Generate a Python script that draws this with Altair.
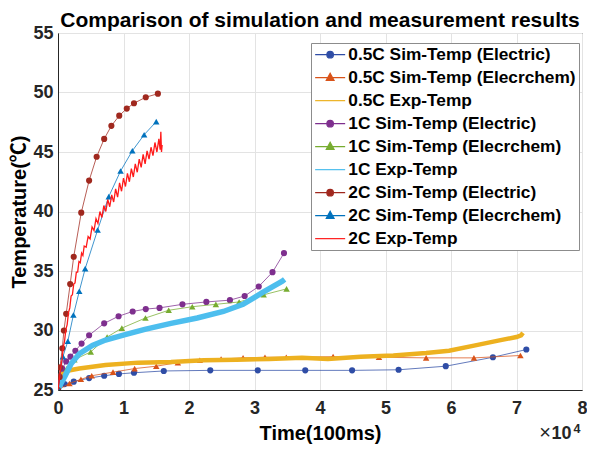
import altair as alt
import pandas as pd

# ---------------- data (x in units of 1e4 x 100ms, T in degC) ----------------
series_names = [
    "0.5C Sim-Temp (Electric)", "0.5C Sim-Temp (Elecrchem)", "0.5C Exp-Temp",
    "1C Sim-Temp (Electric)", "1C Sim-Temp (Elecrchem)", "1C Exp-Temp",
    "2C Sim-Temp (Electric)", "2C Sim-Temp (Elecrchem)", "2C Exp-Temp",
]
series_colors = ["#2F4DA6", "#D95319", "#EDB120",
                 "#7E2F8E", "#77AC30", "#4DBEEE",
                 "#A0281E", "#0072BD", "#FF1A1A"]

x_05_el = [0, 0.1, 0.24, 0.475, 0.705, 0.93, 1.16, 1.615, 2.325, 3.05, 3.775, 4.49, 5.2, 5.92, 6.64, 7.15]
t_05_el = [25.0, 25.5, 25.7, 26.0, 26.2, 26.35, 26.45, 26.6, 26.65, 26.65, 26.65, 26.65, 26.7, 27.0, 27.75, 28.4]

x_05_ec = [0, 0.175, 0.35, 0.515, 0.84, 1.17, 1.5, 1.83, 2.165, 2.49, 2.825, 3.16, 3.485, 4.2, 4.9, 5.62, 6.35, 7.06]
t_05_ec = [25.0, 25.55, 25.9, 26.2, 26.5, 26.8, 27.0, 27.3, 27.5, 27.6, 27.7, 27.75, 27.75, 27.8, 27.75, 27.7, 27.7, 27.9]

x_05_ex = [0, 0.02, 0.05, 0.125, 0.325, 0.725, 1.225, 1.725, 2.225, 2.725, 3.225, 3.725, 4.12, 4.62, 5.12, 5.62, 5.97, 6.37, 6.72, 7.0, 7.07, 7.1]
t_05_ex = [25.0, 25.9, 26.4, 26.6, 26.8, 27.1, 27.3, 27.35, 27.5, 27.55, 27.6, 27.7, 27.6, 27.8, 27.9, 28.1, 28.3, 28.75, 29.15, 29.45, 29.6, 29.8]

x_1_el = [0, 0.01, 0.065, 0.125, 0.19, 0.265, 0.36, 0.475, 0.705, 0.925, 1.14, 1.34, 1.55, 1.9, 2.265, 2.625, 2.85, 3.065, 3.275, 3.45]
t_1_el = [25.1, 26.1, 26.8, 27.4, 27.8, 28.3, 28.9, 29.6, 30.6, 31.2, 31.6, 31.8, 31.9, 32.2, 32.4, 32.55, 32.9, 33.7, 34.9, 36.5]

x_1_ec = [0, 0.135, 0.25, 0.5, 0.75, 0.975, 1.335, 1.69, 2.05, 2.41, 2.765, 3.14, 3.49]
t_1_ec = [25.0, 26.8, 27.55, 28.2, 29.45, 30.2, 31.05, 31.7, 32.0, 32.2, 32.4, 33.0, 33.5]

x_1_ex = [0, 0.05, 0.1, 0.2, 0.325, 0.525, 0.725, 1.025, 1.325, 1.725, 2.125, 2.525, 2.825, 3.125, 3.425, 3.46]
t_1_ex = [25.0, 25.6, 26.1, 27.2, 28.05, 28.75, 29.2, 29.65, 30.1, 30.6, 31.05, 31.6, 32.2, 33.2, 34.15, 34.3]

x_2_el = [0, 0.025, 0.03, 0.066, 0.09, 0.125, 0.186, 0.24, 0.355, 0.475, 0.59, 0.705, 0.815, 0.935, 1.05, 1.16, 1.34, 1.525]
t_2_el = [25.0, 26.1, 26.9, 28.5, 30.0, 31.4, 33.9, 36.2, 39.9, 42.6, 44.6, 46.1, 47.2, 48.05, 48.65, 49.1, 49.6, 49.9]

x_2_ec = [0, 0.075, 0.15, 0.235, 0.325, 0.415, 0.605, 0.775, 0.955, 1.135, 1.315, 1.5]
t_2_ec = [25.1, 27.8, 29.1, 31.3, 33.3, 35.2, 38.45, 41.25, 43.4, 45.1, 46.45, 47.55]

x_2_ex = [0, 0.02, 0.04, 0.06, 0.08, 0.10, 0.12, 0.14, 0.16, 0.18, 0.20, 0.22, 0.24, 0.26, 0.28,
          0.30, 0.32, 0.34, 0.36, 0.38, 0.40, 0.43, 0.46, 0.49, 0.52, 0.55, 0.58, 0.61, 0.64, 0.67,
          0.70, 0.73, 0.76, 0.79, 0.82, 0.85, 0.88, 0.91, 0.94, 0.97, 1.00, 1.03, 1.06, 1.09, 1.12,
          1.15, 1.18, 1.21, 1.24, 1.27, 1.30, 1.33, 1.36, 1.39, 1.42, 1.45, 1.48, 1.51, 1.54, 1.56,
          1.57, 1.58, 1.59]
t_2_ex = [25.0, 25.9, 26.8, 27.5, 28.6, 29.1, 30.1, 30.5, 31.5, 31.9, 32.9, 33.0, 33.9, 34.0, 34.9,
          34.9, 35.8, 35.7, 36.5, 36.3, 37.1, 37.0, 37.9, 37.7, 38.7, 38.4, 39.4, 39.0, 40.0, 39.5,
          40.5, 40.0, 41.0, 40.4, 41.4, 40.8, 41.9, 41.2, 42.4, 41.7, 42.8, 42.1, 43.2, 42.5, 43.6,
          42.9, 44.0, 43.3, 44.4, 43.7, 44.8, 44.0, 45.1, 44.4, 45.4, 44.7, 45.8, 45.0, 46.1, 45.2,
          46.7, 45.0, 45.6]

series_x = [x_05_el, x_05_ec, x_05_ex, x_1_el, x_1_ec, x_1_ex, x_2_el, x_2_ec, x_2_ex]
series_t = [t_05_el, t_05_ec, t_05_ex, t_1_el, t_1_ec, t_1_ex, t_2_el, t_2_ec, t_2_ex]
series_kind = ["circle", "triangle", "exp", "circle", "triangle", "exp", "circle", "triangle", "exp"]

x_ticks = [0, 1, 2, 3, 4, 5, 6, 7, 8]
y_ticks = [25, 30, 35, 40, 45, 50, 55]

# ---------------- build table ----------------
rows = []
for name, xs, ts in zip(series_names, series_x, series_t):
    for xv, tv in zip(xs, ts):
        rows.append({"series": name, "x": xv, "T": tv})
df = pd.DataFrame(rows)

FONT = "Liberation Sans, Arial, Noto Sans CJK SC, sans-serif"
W, H = 524, 357

xenc = alt.X("x:Q", scale=alt.Scale(domain=[0, 8], nice=False, zero=False),
             axis=alt.Axis(values=x_ticks, title="Time(100ms)", format="d"))
yenc = alt.Y("T:Q", scale=alt.Scale(domain=[25, 55], nice=False, zero=False),
             axis=alt.Axis(values=y_ticks, title="Temperature(℃)"))

layers = []
for name, kind, col in zip(series_names, series_kind, series_colors):
    base = alt.Chart(df).transform_filter(alt.datum.series == name)
    if kind == "exp":
        if name.startswith("2C"):
            sw = 1.3
        elif name.startswith("1C"):
            sw = 5.5
        else:
            sw = 4.5
        layers.append(base.mark_line(strokeWidth=sw, clip=True, color=col).encode(x=xenc, y=yenc))
    else:
        shp = "circle" if kind == "circle" else "triangle-up"
        sz = 38 if kind == "circle" else 42
        layers.append(base.mark_line(strokeWidth=1, opacity=0.75, clip=True, color=col)
                      .encode(x=xenc, y=yenc))
        layers.append(base.mark_point(filled=True, opacity=1, size=sz, shape=shp, clip=True, color=col)
                      .encode(x=xenc, y=yenc))

# legend layer: its points sit outside the clipped view, it only drives the legend
p_circle = "M-1,0H3M0.56,0A0.44,0.44 0 1,0 1.44,0A0.44,0.44 0 1,0 0.56,0Z"
p_tri = "M-1,0H3M1,-0.58L1.52,0.38L0.48,0.38Z"
p_line = "M-1,0H3"
legend_shapes = [p_circle, p_tri, p_line] * 3
df_leg = pd.DataFrame({"series": series_names, "x": [-1.0] * 9, "T": [0.0] * 9})
leg = alt.Legend(title=None, orient="none", legendX=253, legendY=10,
                 labelFont=FONT, labelFontSize=17.3, labelFontWeight="bold", labelColor="black",
                 symbolSize=225, symbolStrokeWidth=1.2, labelOffset=17, rowPadding=5.0,
                 padding=3, strokeColor="#8c8c8c", fillColor="white", cornerRadius=0,
                 labelLimit=400)
cscale = alt.Scale(domain=series_names, range=series_colors)
legend_layer = alt.Chart(df_leg).mark_point(opacity=1, filled=True, clip=True, strokeWidth=1.2).encode(
    x=alt.X("x:Q"), y=alt.Y("T:Q"),
    fill=alt.Fill("series:N", scale=cscale, legend=leg),
    stroke=alt.Stroke("series:N", scale=cscale, legend=leg),
    shape=alt.Shape("series:N", scale=alt.Scale(domain=series_names, range=legend_shapes), legend=leg),
)

# x10^4 exponent annotation
ann = pd.DataFrame({"a": [0]})
times = alt.Chart(ann).mark_text(text="×", font=FONT, fontSize=20, fontWeight="normal",
                                 align="right", baseline="alphabetic", color="#262626").encode(
    x=alt.value(W - 31), y=alt.value(H + 49))
ten = alt.Chart(ann).mark_text(text="10", font=FONT, fontSize=18, fontWeight="bold",
                               align="right", baseline="alphabetic", color="#262626").encode(
    x=alt.value(W - 10.5), y=alt.value(H + 49))
four = alt.Chart(ann).mark_text(text="4", font=FONT, fontSize=12.5, fontWeight="bold",
                                align="left", baseline="alphabetic", color="#262626").encode(
    x=alt.value(W - 8.5), y=alt.value(H + 43))

chart = alt.layer(*layers, legend_layer, times, ten, four).properties(
    width=W, height=H,
    title=alt.TitleParams("Comparison of simulation and measurement results",
                          font=FONT, fontSize=21, fontWeight="bold", color="black",
                          anchor="middle", offset=-7, frame="group"),
    autosize=alt.AutoSizeParams(type="none"),
    padding={"left": 50, "top": 25, "right": 5, "bottom": 54},
).configure_view(stroke="#262626", strokeWidth=1).configure_axis(
    labelFont=FONT, labelFontSize=18, labelFontWeight="bold", labelColor="#262626",
    titleFont=FONT, titleFontSize=20, titleFontWeight="bold", titleColor="black",
    gridColor="#e3e3e3", gridWidth=1, domainColor="#262626", ticks=False, tickSize=0,
    labelFlush=False, labelOverlap=False,
).configure_axisX(labelPadding=9, titlePadding=6).configure_axisY(labelPadding=5, titlePadding=3)

chart.save("out.html", embed_options={"renderer": "svg", "actions": False})
